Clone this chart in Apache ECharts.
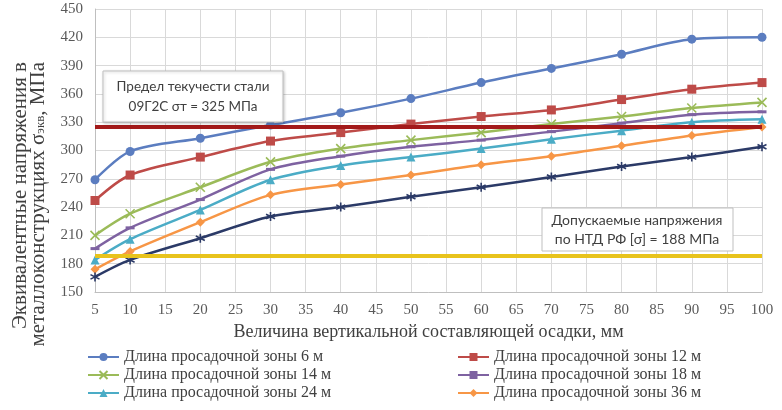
<!DOCTYPE html>
<html><head><meta charset="utf-8">
<script src="https://cdn.jsdelivr.net/npm/echarts@6/dist/echarts.min.js"></script>
<style>html,body{margin:0;padding:0;background:#fff}#c{width:782px;height:410px}</style>
</head><body><div id="c"></div>
<script>
const xValues = [5, 10, 20, 30, 40, 50, 60, 70, 80, 90, 100];
const zone6  = [269, 299, 313, 327, 340, 355, 372, 387, 402, 418, 420];
const zone12 = [247, 274, 293, 310, 319, 328, 336, 343, 354, 365, 372];
const zone14 = [210, 233, 261, 288, 302, 311, 319, 328, 336, 345, 351];
const zone18 = [196, 218, 248, 280, 294, 304, 311, 320, 329, 338, 341];
const zone24 = [184, 206, 237, 269, 284, 293, 302, 312, 321, 330, 333];
const zone36 = [174, 193, 224, 253, 264, 274, 285, 294, 305, 316, 325];
const zone48 = [166, 184, 207, 230, 240, 251, 261, 272, 283, 293, 304];
const yieldLimit = 325;
const allowedLimit = 188;
const seriesNames = ['Длина просадочной зоны 6 м','Длина просадочной зоны 12 м','Длина просадочной зоны 14 м','Длина просадочной зоны 18 м','Длина просадочной зоны 24 м','Длина просадочной зоны 36 м','Длина просадочной зоны 48 м'];

const chart = echarts.init(document.getElementById('c'));
const serif = '"Liberation Serif","Times New Roman",serif';
const pair = arr => xValues.map((x, i) => [x, arr[i]]);
function mk(name, data, color, symbol, size, extra) {
  return Object.assign({
    name, type: 'line', data: pair(data), smooth: 0.3,
    symbol, symbolSize: size,
    lineStyle: { color, width: 2.5 },
    itemStyle: { color, borderColor: color, borderWidth: 0 },
    emphasis: { disabled: true }, z: 3
  }, extra || {});
}
const xPath = 'path://M0,0L10,10M10,0L0,10';
const starPath = 'path://M5,0L5,10M0,2.5L10,7.5M0,7.5L10,2.5';
const series = [
  mk(seriesNames[0], zone6, '#5B7DC0', 'circle', 9),
  mk(seriesNames[1], zone12, '#BE4B48', 'rect', 9),
  mk(seriesNames[2], zone14, '#9BBB59', xPath, 9, { itemStyle: { color: '#9BBB59', borderColor: '#9BBB59', borderWidth: 1.6 } }),
  mk(seriesNames[3], zone18, '#7E62A1', 'rect', [9, 3]),
  mk(seriesNames[4], zone24, '#4BACC6', 'triangle', 9),
  mk(seriesNames[5], zone36, '#F79646', 'diamond', 9),
  mk(seriesNames[6], zone48, '#2B3A67', starPath, 9, { itemStyle: { color: '#2B3A67', borderColor: '#2B3A67', borderWidth: 1.6 } }),
  {
    name: 'limits', type: 'line', data: [], z: 10,
    markLine: {
      silent: true, symbol: 'none', label: { show: false }, animation: false,
      data: [
        { yAxis: yieldLimit, lineStyle: { color: '#A31A1A', width: 4, type: 'solid' } },
        { yAxis: allowedLimit, lineStyle: { color: '#E8C31C', width: 4, type: 'solid' } }
      ]
    }
  }
];

const legendText = { fontFamily: serif, fontSize: 16, color: '#404040', lineHeight: 18 };
chart.setOption({
  animation: false,
  grid: { left: 95, right: 20, top: 9, bottom: 118 },
  xAxis: {
    type: 'value', min: 5, max: 100, interval: 5,
    axisLine: { lineStyle: { color: '#BFBFBF' } },
    axisTick: { show: false },
    splitLine: { lineStyle: { color: '#D9D9D9' } },
    axisLabel: { fontFamily: serif, fontSize: 15, color: '#595959', margin: 11 },
    name: 'Величина вертикальной составляющей осадки, мм',
    nameLocation: 'middle', nameGap: 28,
    nameTextStyle: { fontFamily: serif, fontSize: 18, color: '#404040' }
  },
  yAxis: {
    type: 'value', min: 150, max: 450, interval: 30,
    axisLine: { show: true, lineStyle: { color: '#BFBFBF' } },
    axisTick: { show: false },
    splitLine: { lineStyle: { color: '#D9D9D9' } },
    axisLabel: { fontFamily: serif, fontSize: 15, color: '#595959', margin: 12 }
  },
  legend: [
    { left: 87, top: 348, height: 60, padding: 0, orient: 'vertical', itemGap: 0, itemWidth: 31, itemHeight: 10,
      data: [seriesNames[0], seriesNames[2], seriesNames[4]], textStyle: legendText },
    { left: 457, top: 348, height: 60, padding: 0, orient: 'vertical', itemGap: 0, itemWidth: 31, itemHeight: 10,
      data: [seriesNames[1], seriesNames[3], seriesNames[5]], textStyle: legendText }
  ],
  graphic: [
    { type: 'text', rotation: Math.PI / 2, x: 29.5, y: 62,
      style: { text: 'Эквивалентные напряжения в\nметаллоконструкциях σ{s|экв}, МПа', rich: { s: { fontSize: 13, verticalAlign: 'bottom', fontFamily: serif, fill: '#404040' } }, fontFamily: serif, fontSize: 21, fill: '#404040', align: 'right', verticalAlign: 'middle', lineHeight: 18 } },
    { type: 'rect', shape: { x: 103, y: 71, width: 180, height: 51 }, style: { fill: '#fff', stroke: '#BFBFBF', lineWidth: 1, shadowBlur: 3, shadowColor: 'rgba(0,0,0,0.2)', shadowOffsetX: 1, shadowOffsetY: 1 }, z: 20 },
    { type: 'text', x: 193, y: 97, z: 21, style: { text: 'Предел текучести стали\n09Г2С σт = 325 МПа', fontFamily: 'Lato, "Liberation Sans", sans-serif', fontSize: 13.5, fill: '#404040', align: 'center', verticalAlign: 'middle', lineHeight: 20 } },
    { type: 'rect', shape: { x: 542, y: 208, width: 191, height: 43 }, style: { fill: '#fff', stroke: '#BFBFBF', lineWidth: 1 }, z: 20 },
    { type: 'text', x: 637, y: 230, z: 21, style: { text: 'Допускаемые напряжения\nпо НТД РФ [σ] = 188 МПа', fontFamily: 'Lato, "Liberation Sans", sans-serif', fontSize: 14, fill: '#404040', align: 'center', verticalAlign: 'middle', lineHeight: 19 } }
  ],
  series
});
</script></body></html>
